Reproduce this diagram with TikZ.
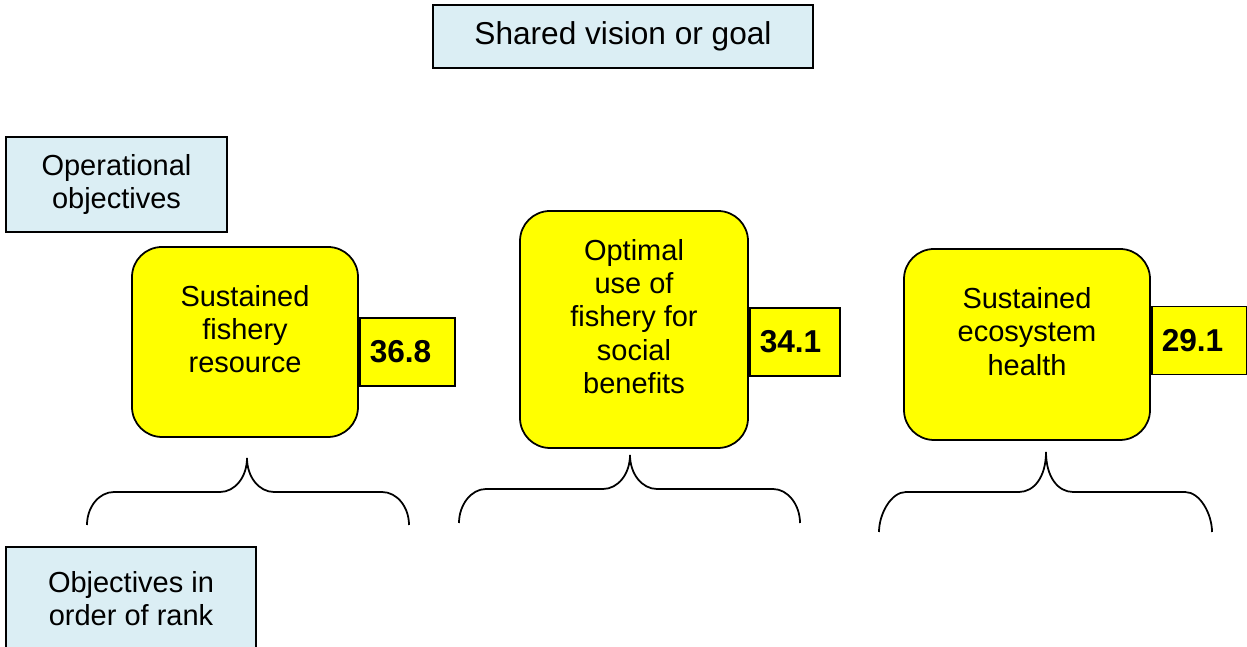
\documentclass[tikz,border=0pt]{standalone}
\usepackage{fontspec}
\setmainfont{Liberation Sans}
\usepackage{tikz}
\usetikzlibrary{positioning}
\definecolor{paleblue}{RGB}{219,238,244}
\definecolor{boxyellow}{RGB}{255,255,0}
\begin{document}
\begin{tikzpicture}
        [font=\fontsize{16.5}{18.8}\selectfont,
        label/.style={rectangle, draw=black, fill=paleblue, line width=1pt, align=center},
        objective/.style={rectangle, rounded corners=0.6cm, draw=black, fill=boxyellow, line width=1pt, align=center, text depth=0.52cm},
        numbox/.style={rectangle, draw=black, fill=boxyellow, line width=1pt, minimum height=1.36cm, inner xsep=0.2cm, text width=1.5cm, align=left, font=\fontsize{18}{18.8}\selectfont\bfseries},
        brace/.style={draw=black, line width=1pt}]
        \clip (0,0) rectangle (24.94,12.94);
        \node (goal) at (12.46,12.21) [label, minimum width=7.6cm, minimum height=1.26cm, font=\fontsize{18}{20}\selectfont] {Shared vision or goal};
        \node (operational) at (2.33,9.25) [label, minimum width=4.42cm, minimum height=1.9cm] {Operational\\objectives};
        \node (rank) at (2.62,0.97) [label, minimum width=5cm, minimum height=2.06cm] {Objectives in\\order of rank};
        \node (resource) at (4.90,6.10) [objective, minimum width=4.52cm, minimum height=3.8cm] {Sustained\\fishery\\resource};
        \node (social) at (12.68,6.35) [objective, minimum width=4.56cm, minimum height=4.74cm] {Optimal\\use of\\fishery for\\social\\benefits};
        \node (ecosystem) at (20.54,6.05) [objective, minimum width=4.92cm, minimum height=3.82cm] {Sustained\\ecosystem\\health};
        \node (resourcescore) [numbox, right=0pt of resource, yshift=-0.2cm] {36.8};
        \node (socialscore) [numbox, right=0pt of social, yshift=-0.25cm, text width=1.4cm] {34.1};
        \node (ecosystemscore) [numbox, right=0pt of ecosystem, yshift=0.08cm] {29.1};
        \foreach \l/\t/\r/\ty/\hy/\by in {1.74/4.94/8.18/3.78/3.10/2.44,
                9.18/12.60/16.00/3.84/3.16/2.48,
                17.58/20.92/24.24/3.90/3.10/2.30}
           \path[brace] (\l,\by) .. controls (\l,\by+0.36) and (\l+0.24,\hy) .. (\l+0.54,\hy) -- (\t-0.54,\hy)
              .. controls (\t-0.24,\hy) and (\t,\hy+0.3) .. (\t,\ty)
              .. controls (\t,\hy+0.3) and (\t+0.24,\hy) .. (\t+0.54,\hy) -- (\r-0.54,\hy)
              .. controls (\r-0.24,\hy) and (\r,\by+0.36) .. (\r,\by);
     \end{tikzpicture}
\end{document}
